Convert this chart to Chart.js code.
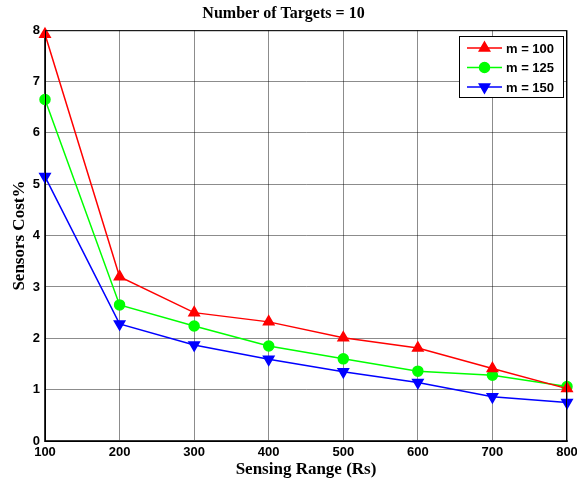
<!DOCTYPE html>
<html lang="en">
<head>
    <meta charset="UTF-8">
    <title>Number of Targets = 10</title>
    <style>
        body {
            margin: 0;
            padding: 0;
            background-color: #ffffff;
        }
        #chartWrap {
            width: 577px;
            height: 483px;
        }
    </style>
</head>
<body>
    <div id="chartWrap">
        <canvas id="costChart" width="577" height="483"></canvas>
    </div>

    <script src="https://cdn.jsdelivr.net/npm/chart.js"></script>
    <script>
        // Dados
        const sensingRange = [100, 200, 300, 400, 500, 600, 700, 800];
        const costM100 = [7.92, 3.2, 2.5, 2.32, 2.01, 1.81, 1.41, 1.02];
        const costM125 = [6.65, 2.65, 2.24, 1.85, 1.6, 1.36, 1.28, 1.06];
        const costM150 = [5.15, 2.28, 1.87, 1.59, 1.35, 1.14, 0.86, 0.75];
        const seriesLabels = ['m = 100', 'm = 125', 'm = 150'];

        const sansFont = '"Liberation Sans", Arial, sans-serif';
        const serifFont = '"Liberation Serif", "Times New Roman", serif';

        function toPoints(values) {
            return sensingRange.map((r, i) => ({ x: r, y: values[i] }));
        }

        // Moldura da área do gráfico + legenda dentro do gráfico
        const framePlugin = {
            id: 'frameAndLegend',
            afterDraw(chart) {
                const { ctx, chartArea } = chart;
                ctx.save();
                ctx.strokeStyle = '#000';
                ctx.lineWidth = 1;
                ctx.strokeRect(chartArea.left + 0.5, chartArea.top + 0.5,
                    chartArea.right - chartArea.left - 1, chartArea.bottom - chartArea.top);

                // legenda
                const bx = 459, by = 36, bw = 104, bh = 61;
                ctx.fillStyle = '#fff';
                ctx.fillRect(bx, by, bw, bh);
                ctx.strokeStyle = '#000';
                ctx.lineWidth = 1;
                ctx.strokeRect(bx + 0.5, by + 0.5, bw, bh);
                chart.data.datasets.forEach((ds, i) => {
                    const y = by + 12 + i * 19.5;
                    ctx.strokeStyle = ds.borderColor;
                    ctx.lineWidth = ds.borderWidth;
                    ctx.beginPath();
                    ctx.moveTo(bx + 8, y);
                    ctx.lineTo(bx + 43, y);
                    ctx.stroke();
                    ctx.fillStyle = ds.pointBackgroundColor;
                    ctx.strokeStyle = ds.borderColor;
                    Chart.helpers.drawPoint(ctx, {
                        pointStyle: ds.pointStyle,
                        radius: ds.pointRadius,
                        rotation: ds.pointRotation || 0,
                        borderWidth: 1
                    }, bx + 25.5, y);
                    ctx.fillStyle = '#000';
                    ctx.font = 'bold 13px ' + sansFont;
                    ctx.textBaseline = 'middle';
                    ctx.textAlign = 'left';
                    ctx.fillText(ds.label, bx + 47, y + 1);
                });
                ctx.restore();
            }
        };

        const gridColor = 'rgba(0, 0, 0, 0.45)';

        new Chart(document.getElementById('costChart'), {
            type: 'line',
            data: {
                datasets: [
                    {
                        label: seriesLabels[0],
                        data: toPoints(costM100),
                        borderColor: '#ff0000',
                        backgroundColor: '#ff0000',
                        pointBackgroundColor: '#ff0000',
                        pointStyle: 'triangle',
                        pointRadius: 6,
                        borderWidth: 1.5,
                        clip: false
                    },
                    {
                        label: seriesLabels[1],
                        data: toPoints(costM125),
                        borderColor: '#00ff00',
                        backgroundColor: '#00ff00',
                        pointBackgroundColor: '#00ff00',
                        pointStyle: 'circle',
                        pointRadius: 5,
                        borderWidth: 1.5,
                        clip: false
                    },
                    {
                        label: seriesLabels[2],
                        data: toPoints(costM150),
                        borderColor: '#0000ff',
                        backgroundColor: '#0000ff',
                        pointBackgroundColor: '#0000ff',
                        pointStyle: 'triangle',
                        pointRotation: 180,
                        pointRadius: 6,
                        borderWidth: 1.5,
                        clip: false
                    }
                ]
            },
            options: {
                responsive: false,
                animation: false,
                layout: {
                    padding: { left: 0, right: 10, top: 0, bottom: 0 }
                },
                plugins: {
                    legend: { display: false },
                    tooltip: { enabled: false },
                    title: {
                        display: true,
                        text: 'Number of Targets = 10',
                        color: '#000',
                        font: { family: serifFont, size: 16, weight: 'bold' },
                        padding: { top: 4, bottom: 7 }
                    }
                },
                scales: {
                    x: {
                        type: 'linear',
                        min: 100,
                        max: 800,
                        ticks: {
                            stepSize: 100,
                            color: '#000',
                            padding: 4,
                            maxRotation: 0,
                            font: { family: sansFont, size: 13, weight: 'bold' }
                        },
                        grid: { color: gridColor, drawTicks: false },
                        border: { color: '#333', width: 2 },
                        title: {
                            display: true,
                            text: 'Sensing Range (Rs)',
                            color: '#000',
                            font: { family: serifFont, size: 17, weight: 'bold' },
                            padding: { top: 0, bottom: 3 }
                        },
                        afterFit(scale) {
                            scale.height = 42;
                            scale.paddingLeft = 0;
                            scale.paddingRight = 0;
                        }
                    },
                    y: {
                        min: 0,
                        max: 8,
                        ticks: {
                            stepSize: 1,
                            color: '#000',
                            padding: 5,
                            font: { family: sansFont, size: 13, weight: 'bold' }
                        },
                        grid: { color: gridColor, drawTicks: false },
                        border: { color: '#333', width: 2 },
                        title: {
                            display: true,
                            text: 'Sensors Cost%',
                            color: '#000',
                            font: { family: serifFont, size: 17, weight: 'bold' },
                            padding: { top: 9, bottom: 0 }
                        },
                        afterFit(scale) {
                            scale.width = 45;
                            scale.paddingTop = 0;
                            scale.paddingBottom = 0;
                        }
                    }
                }
            },
            plugins: [framePlugin]
        });
    </script>
</body>
</html>
